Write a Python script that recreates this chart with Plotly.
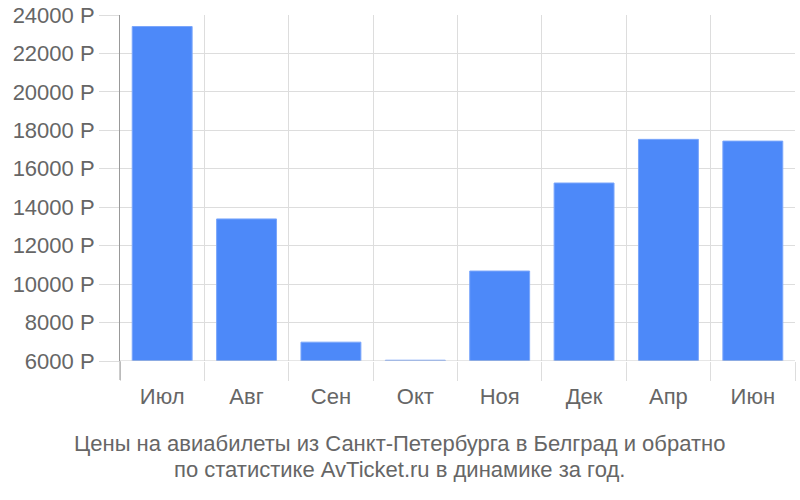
import plotly.graph_objects as go

months = ["Июл", "Авг", "Сен", "Окт", "Ноя", "Дек", "Апр", "Июн"]
prices = [23400, 13390, 6980, 6040, 10680, 15260, 17530, 17440]
y_ticks = [6000, 8000, 10000, 12000, 14000, 16000, 18000, 20000, 22000, 24000]
y_labels = [f"{v} Р" for v in y_ticks]
caption = ["Цены на авиабилеты из Санкт-Петербурга в Белград и обратно",
           "по статистике AvTicket.ru в динамике за год."]

FONT = "Liberation Sans, Arial, sans-serif"
fig = go.Figure(go.Bar(
    x=months, y=prices,
    marker=dict(color="#4d89f9", line=dict(color="#7aa6fb", width=1)),
    width=0.71,
))

fig.update_layout(
    width=800, height=500,
    margin=dict(l=120, r=5, t=15, b=139),
    paper_bgcolor="white", plot_bgcolor="white",
    font=dict(family=FONT, color="#666666", size=22),
    showlegend=False,
    xaxis=dict(
        tickson="boundaries", ticks="outside", ticklen=19, tickcolor="#dddddd",
        showgrid=True, gridcolor="#dddddd", gridwidth=1,
        showline=False, tickfont=dict(size=22, color="#666666"),
        automargin=False, ticklabelstandoff=20,
    ),
    yaxis=dict(
        range=[6000, 24000], tickvals=y_ticks, ticktext=y_labels,
        ticks="outside", ticklen=20, tickcolor="#dddddd",
        showgrid=True, gridcolor="#dddddd", gridwidth=1,
        showline=True, linecolor="#999999", linewidth=1,
        zeroline=False, tickfont=dict(size=22, color="#666666"),
        automargin=False, ticklabeloverflow="allow",
    ),
    annotations=[
        dict(text=caption[0], xref="paper", yref="paper", x=0.4148, y=-0.237,
             xanchor="center", yanchor="middle", showarrow=False,
             font=dict(size=22, color="#666666", family=FONT)),
        dict(text=caption[1], xref="paper", yref="paper", x=0.4148, y=-0.313,
             xanchor="center", yanchor="middle", showarrow=False,
             font=dict(size=22, color="#666666", family=FONT)),
    ],
)

fig.add_shape(type="line", xref="paper", yref="y", x0=0, x1=1, y0=6000, y1=6000,
              line=dict(color="#cccccc", width=1))
fig.add_shape(type="line", xref="paper", yref="paper", x0=0, x1=0, y0=0, y1=-19/346,
              line=dict(color="#999999", width=1))

fig.write_html("out.html", config={"displayModeBar": False},
               post_script="document.body.style.margin='0';")
